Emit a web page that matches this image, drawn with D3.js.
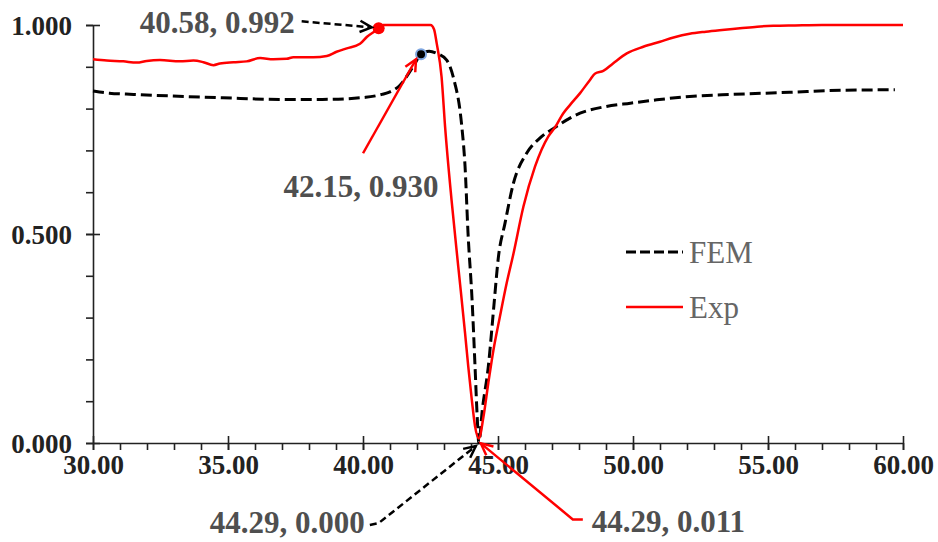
<!DOCTYPE html>
<html>
<head>
<meta charset="utf-8">
<script src="https://cdn.jsdelivr.net/npm/d3@7"></script>
<style>
  body { margin: 0; background: #fff; }
  svg { display: block; }
</style>
</head>
<body>
<svg id="chart" width="938" height="542"></svg>
<script>
// FEM (dashed black) curve: [x, y]
const femData = [
  [30.0, 0.842], [30.6, 0.837], [31.5, 0.834], [32.96, 0.830], [34.8, 0.826], [36.9, 0.822],
  [38.5, 0.822], [40.1, 0.827], [40.7, 0.834], [41.0, 0.840], [41.37, 0.856], [41.85, 0.900],
  [42.15, 0.930], [42.45, 0.937], [42.73, 0.932], [43.1, 0.916], [43.4, 0.861], [43.59, 0.797],
  [43.66, 0.757], [43.78, 0.661], [43.89, 0.502], [44.04, 0.342], [44.15, 0.182],
  [44.23, 0.062], [44.29, 0.000], [44.42, 0.080], [44.64, 0.182], [44.85, 0.330], [45.01, 0.442],
  [45.26, 0.526], [45.57, 0.621], [46.06, 0.693], [46.56, 0.730], [47.11, 0.755], [48.04, 0.789],
  [49.0, 0.805], [49.9, 0.813], [50.88, 0.821], [52.1, 0.829], [53.7, 0.834], [55.8, 0.839],
  [57.7, 0.844], [59.7, 0.845]
];

// Exp (solid red) curve: [x, y]
const expData = [
  [30.0, 0.918], [30.51, 0.915], [31.12, 0.913], [31.62, 0.910], [31.99, 0.914], [32.48, 0.916],
  [33.22, 0.913], [33.72, 0.915], [34.09, 0.911], [34.46, 0.904], [34.7, 0.908], [35.2, 0.911],
  [35.69, 0.913], [36.19, 0.921], [36.68, 0.918], [37.17, 0.919], [37.42, 0.923], [38.16, 0.923],
  [38.66, 0.926], [39.02, 0.936], [39.4, 0.944], [39.89, 0.955], [40.15, 0.972], [40.5, 0.988],
  [40.58, 0.992], [40.75, 1.000], [42.5, 1.000], [42.63, 0.990], [42.73, 0.956], [42.91, 0.876],
  [43.04, 0.757], [43.28, 0.581], [43.53, 0.421], [43.78, 0.263], [43.9, 0.182], [44.03, 0.103],
  [44.15, 0.040], [44.29, 0.011], [44.46, 0.062], [44.64, 0.143], [44.83, 0.222], [45.07, 0.302],
  [45.32, 0.382], [45.57, 0.452], [45.94, 0.565], [46.37, 0.661], [46.86, 0.733], [47.11, 0.755],
  [47.42, 0.789], [47.67, 0.809], [48.04, 0.837], [48.4, 0.868], [48.6, 0.884], [48.9, 0.890],
  [49.26, 0.908], [49.77, 0.932], [50.38, 0.948], [51.0, 0.960], [51.5, 0.970], [52.1, 0.979],
  [52.7, 0.984], [53.3, 0.988], [53.96, 0.992], [54.6, 0.996], [55.2, 0.998], [56.0, 0.999],
  [57.0, 1.000], [60.0, 1.000]
];

const xMajorTicks = [30, 35, 40, 45, 50, 55, 60];
const yMajorTicks = [0, 0.5, 1];

// labelled points: x, y
const annotX = [40.58, 42.15, 44.29, 44.29];
const annotY = [0.992, 0.930, 0.000, 0.011];

const seriesNames = ['FEM', 'Exp'];

const svg = d3.select('#chart');
const margin = { left: 93, right: 35, top: 25, bottom: 99 };
const width = 938, height = 542;

const x = d3.scaleLinear().domain([30, 60]).range([margin.left, width - margin.right]);
const y = d3.scaleLinear().domain([0, 1]).range([height - margin.bottom, margin.top]);

const tickFont = 'Liberation Serif, Times New Roman, serif';

// x axis
const xMinor = svg.append('g')
  .attr('transform', `translate(0,${y(0)})`)
  .call(d3.axisBottom(x).tickValues(d3.range(30, 60.01, 1)).tickSize(7).tickFormat(''));
xMinor.select('.domain').remove();

const xAxis = svg.append('g')
  .attr('transform', `translate(0,${y(0)})`)
  .call(d3.axisBottom(x).tickValues(xMajorTicks).tickSize(7).tickSizeOuter(0).tickFormat(d3.format('.2f')));
xAxis.selectAll('.tick line').attr('y1', -7);
xAxis.selectAll('text')
  .attr('y', 31).attr('dy', 0)
  .style('font-family', tickFont).style('font-size', '27px').style('font-weight', 'bold')
  .attr('fill', '#222');

// y axis
const yMinor = svg.append('g')
  .attr('transform', `translate(${x(30)},0)`)
  .call(d3.axisLeft(y).tickValues(d3.range(0, 1.001, 0.1)).tickSize(7).tickFormat(''));
yMinor.select('.domain').remove();

const yAxis = svg.append('g')
  .attr('transform', `translate(${x(30)},0)`)
  .call(d3.axisLeft(y).tickValues(yMajorTicks).tickSize(7).tickSizeOuter(0).tickFormat(d3.format('.3f')));
yAxis.selectAll('.tick line').attr('x1', 7);
yAxis.selectAll('text')
  .attr('x', -21).attr('dy', '0.34em')
  .style('font-family', tickFont).style('font-size', '27px').style('font-weight', 'bold')
  .attr('fill', '#222');

svg.selectAll('.domain, .tick line').attr('stroke', '#222').attr('stroke-width', 1.6);

// lines
const line = d3.line().x(d => x(d[0])).y(d => y(d[1])).curve(d3.curveMonotoneX);

svg.append('path')
  .datum(femData)
  .attr('d', line)
  .attr('fill', 'none')
  .attr('stroke', '#000')
  .attr('stroke-width', 3)
  .attr('stroke-dasharray', '11,5');

svg.append('path')
  .datum(expData)
  .attr('d', line)
  .attr('fill', 'none')
  .attr('stroke', '#ff0000')
  .attr('stroke-width', 2.5);

// markers
svg.append('circle')
  .attr('cx', x(annotX[0])).attr('cy', y(annotY[0])).attr('r', 6)
  .attr('fill', '#ff0000');
svg.append('circle')
  .attr('cx', x(annotX[1])).attr('cy', y(annotY[1])).attr('r', 5)
  .attr('fill', '#000').attr('stroke', '#7ea6e0').attr('stroke-width', 2);

// annotation arrows: path points as pixel offsets from the data point
const arrowStyles = [
  { color: '#000', dash: '7,4', pts: [[-77, -7], [-7, -1]], text: [-84, 5], anchor: 'end' },
  { color: '#ff0000', dash: null, pts: [[-58, 99], [-5, 5]], text: [-60, 143], anchor: 'middle' },
  { color: '#000', dash: '7,4', pts: [[-109, 82], [-100, 80], [-3, 3]], text: [-114, 90], anchor: 'end' },
  { color: '#ff0000', dash: null, pts: [[104, 81], [94, 81], [2, 5]], text: [113, 94], anchor: 'start' }
];
const fmt = d3.format('.2f'), fmt3 = d3.format('.3f');

annotX.forEach((ax, i) => {
  const st = arrowStyles[i];
  const px = x(ax), py = y(annotY[i]);
  const pts = st.pts.map(p => [px + p[0], py + p[1]]);
  const g = svg.append('g');
  g.append('path')
    .attr('d', d3.line()(pts))
    .attr('fill', 'none')
    .attr('stroke', st.color)
    .attr('stroke-width', 2.5)
    .attr('stroke-dasharray', st.dash);
  // open arrow head
  const tip = pts[pts.length - 1], prev = pts[pts.length - 2];
  const ang = Math.atan2(tip[1] - prev[1], tip[0] - prev[0]);
  const L = 13, spread = 0.45;
  const head = [
    [tip[0] - L * Math.cos(ang - spread), tip[1] - L * Math.sin(ang - spread)],
    tip,
    [tip[0] - L * Math.cos(ang + spread), tip[1] - L * Math.sin(ang + spread)]
  ];
  g.append('path')
    .attr('d', d3.line()(head))
    .attr('fill', 'none')
    .attr('stroke', st.color)
    .attr('stroke-width', 2.5);
  g.append('text')
    .attr('x', px + st.text[0]).attr('y', py + st.text[1])
    .attr('text-anchor', st.anchor)
    .style('font-family', tickFont).style('font-size', '31px').style('font-weight', 'bold')
    .attr('fill', '#4f4f4f')
    .text(`${fmt(ax)}, ${fmt3(annotY[i])}`);
});

// legend
const legend = svg.append('g').attr('transform', 'translate(626,252)');
seriesNames.forEach((name, i) => {
  const row = legend.append('g').attr('transform', `translate(0,${i * 55})`);
  row.append('line')
    .attr('x1', 0).attr('x2', 57).attr('y1', 0).attr('y2', 0)
    .attr('stroke', name === 'FEM' ? '#000' : '#ff0000')
    .attr('stroke-width', name === 'FEM' ? 3 : 2.5)
    .attr('stroke-dasharray', name === 'FEM' ? '10,4' : null);
  row.append('text')
    .attr('x', 63).attr('y', 11)
    .style('font-family', tickFont).style('font-size', '31px')
    .attr('fill', '#666')
    .text(name);
});
</script>
</body>
</html>
